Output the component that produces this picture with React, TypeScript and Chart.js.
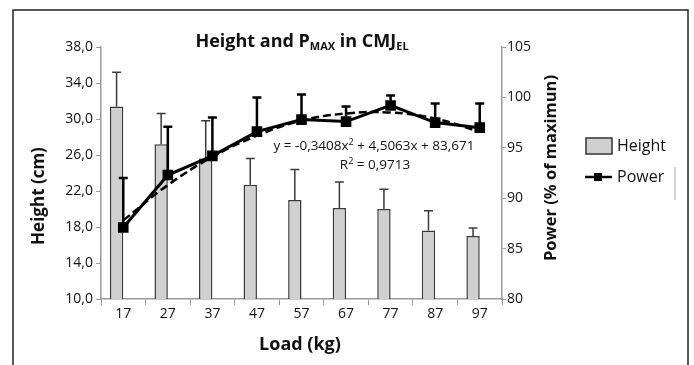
import React, { useEffect, useRef } from "react";
import { Chart, registerables } from "chart.js";
Chart.register(...registerables);

const loads = ["17", "27", "37", "47", "57", "67", "77", "87", "97"];
const heightMean = [31.4, 27.2, 25.6, 22.7, 21.0, 20.1, 20.0, 17.6, 17.0];
const heightSD = [3.8, 3.4, 4.2, 2.9, 3.4, 2.9, 2.2, 2.2, 0.9];
const powerMean = [87.1, 92.3, 94.2, 96.6, 97.8, 97.6, 99.2, 97.5, 97.0];
const powerSD = [4.9, 4.8, 3.8, 3.4, 2.5, 1.5, 1.0, 1.9, 2.4];
const powerTrend = [87.8, 91.3, 94.1, 96.2, 97.7, 98.4, 98.5, 97.9, 96.6];
const heightTicks = ["10,0", "14,0", "18,0", "22,0", "26,0", "30,0", "34,0", "38,0"];
const powerTicks = ["80", "85", "90", "95", "100", "105"];

const FONT = "'Open Sans', 'Noto Sans', sans-serif";

function drawRich(ctx: CanvasRenderingContext2D, parts: { t: string; f: string; dy: number }[], cx: number, base: number, rot = 0, ox = 0, oy = 0) {
  ctx.save();
  let w = 0;
  parts.forEach((p) => { ctx.font = p.f; w += ctx.measureText(p.t).width; });
  if (rot) { ctx.translate(ox, oy); ctx.rotate(rot); }
  let x = cx - w / 2;
  ctx.textBaseline = "alphabetic";
  ctx.textAlign = "left";
  ctx.fillStyle = "#111";
  parts.forEach((p) => { ctx.font = p.f; ctx.fillText(p.t, x, base + p.dy); x += ctx.measureText(p.t).width; });
  ctx.restore();
}

const overlay = {
  id: "overlay",
  afterDatasetDraw(chart: any, args: any) {
    const ctx = chart.ctx;
    if (args.index === 0) {
      const meta = chart.getDatasetMeta(0);
      const ys = chart.scales.y;
      ctx.save();
      ctx.strokeStyle = "#3a3a3a";
      ctx.lineWidth = 1.5;
      meta.data.forEach((bar: any, i: number) => {
        const x = bar.x;
        const y0 = ys.getPixelForValue(heightMean[i]);
        const y1 = ys.getPixelForValue(heightMean[i] + heightSD[i]);
        ctx.beginPath();
        ctx.moveTo(x, y0); ctx.lineTo(x, y1);
        ctx.moveTo(x - 4.5, y1); ctx.lineTo(x + 4.5, y1);
        ctx.stroke();
      });
      ctx.restore();
    }
    if (args.index === 2) {
      const meta = chart.getDatasetMeta(2);
      const ys = chart.scales.y1;
      ctx.save();
      ctx.strokeStyle = "#000";
      ctx.lineWidth = 2.5;
      meta.data.forEach((pt: any, i: number) => {
        const x = pt.x;
        const y0 = ys.getPixelForValue(powerMean[i]);
        const y1 = ys.getPixelForValue(powerMean[i] + powerSD[i]);
        ctx.beginPath();
        ctx.moveTo(x, y0); ctx.lineTo(x, y1);
        ctx.moveTo(x - 4.5, y1); ctx.lineTo(x + 4.5, y1);
        ctx.stroke();
      });
      ctx.restore();
    }
  },
  afterDraw(chart: any) {
    const ctx = chart.ctx as CanvasRenderingContext2D;
    // outer frame
    ctx.save();
    ctx.strokeStyle = "#222";
    ctx.lineWidth = 1.5;
    ctx.beginPath();
    ctx.moveTo(13, 365); ctx.lineTo(13, 10); ctx.lineTo(688, 10); ctx.lineTo(688, 365);
    ctx.stroke();
    ctx.strokeStyle = "#aaa";
    ctx.lineWidth = 1;
    ctx.beginPath(); ctx.moveTo(675, 167); ctx.lineTo(675, 200); ctx.stroke();
    ctx.restore();

    // title
    drawRich(ctx, [
      { t: "Height and P", f: `bold 18px ${FONT}`, dy: 0 },
      { t: "MAX", f: `bold 11px ${FONT}`, dy: 3 },
      { t: " in CMJ", f: `bold 18px ${FONT}`, dy: 0 },
      { t: "EL", f: `bold 11px ${FONT}`, dy: 3 },
    ], 302, 47);

    // equation
    drawRich(ctx, [
      { t: "y = -0,3408x", f: `13.5px ${FONT}`, dy: 0 },
      { t: "2", f: `9px ${FONT}`, dy: -5 },
      { t: " + 4,5063x + 83,671", f: `13.5px ${FONT}`, dy: 0 },
    ], 374, 150);
    drawRich(ctx, [
      { t: "R", f: `13.5px ${FONT}`, dy: 0 },
      { t: "2", f: `9px ${FONT}`, dy: -5 },
      { t: " = 0,9713", f: `13.5px ${FONT}`, dy: 0 },
    ], 375, 169);

    // axis titles
    drawRich(ctx, [{ t: "Load (kg)", f: `bold 18px ${FONT}`, dy: 0 }], 300, 350);
    drawRich(ctx, [{ t: "Height (cm)", f: `bold 17px ${FONT}`, dy: 0 }], 0, 0, -Math.PI / 2, 44, 196);
    drawRich(ctx, [{ t: "Power (% of maximun)", f: `bold 16.5px ${FONT}`, dy: 0 }], 0, 0, -Math.PI / 2, 556, 168);

    // legend
    ctx.save();
    ctx.fillStyle = "#d0d0d0";
    ctx.fillRect(586, 138, 26, 16);
    ctx.strokeStyle = "#333";
    ctx.lineWidth = 1.5;
    ctx.strokeRect(586, 138, 26, 16);
    ctx.strokeStyle = "#000";
    ctx.lineWidth = 2.5;
    ctx.beginPath(); ctx.moveTo(585, 177); ctx.lineTo(612, 177); ctx.stroke();
    ctx.fillStyle = "#000";
    ctx.fillRect(594, 173, 8, 8);
    ctx.fillStyle = "#111";
    ctx.font = `16px ${FONT}`;
    ctx.textBaseline = "middle";
    ctx.textAlign = "left";
    ctx.fillText("Height", 617, 146);
    ctx.fillText("Power", 617, 177);
    ctx.restore();
  },
};

export default function App() {
  const ref = useRef<HTMLCanvasElement>(null);
  useEffect(() => {
    if (!ref.current) return;
    const tickFont = { family: FONT, size: 14 };
    const chart = new Chart(ref.current, {
      type: "bar",
      data: {
        labels: loads,
        datasets: [
          {
            type: "bar",
            label: "Height",
            data: heightMean,
            yAxisID: "y",
            backgroundColor: "#d0d0d0",
            borderColor: "#3a3a3a",
            borderWidth: 1.5,
            categoryPercentage: 0.6,
            barPercentage: 1,
            order: 3,
          },
          {
            type: "bar",
            label: "",
            data: loads.map(() => null),
            yAxisID: "y",
            categoryPercentage: 0.6,
            barPercentage: 1,
            order: 4,
          },
          {
            type: "line",
            label: "Power",
            data: powerMean,
            yAxisID: "y1",
            borderColor: "#000",
            backgroundColor: "#000",
            borderWidth: 3,
            pointStyle: "rect",
            pointRadius: 7.5,
            pointBorderWidth: 0,
            tension: 0,
            order: 0,
          },
          {
            type: "line",
            label: "trend",
            data: powerTrend,
            yAxisID: "y1",
            borderColor: "#000",
            borderWidth: 2.5,
            borderDash: [8, 4],
            pointRadius: 0,
            tension: 0.4,
            order: 1,
          },
        ] as any,
      },
      options: {
        animation: false,
        responsive: true,
        maintainAspectRatio: false,
        layout: { padding: { left: 0, top: 47, right: 0, bottom: 0 } },
        plugins: { legend: { display: false }, title: { display: false }, tooltip: { enabled: false } },
        scales: {
          x: {
            offset: true,
            grid: { display: true, drawOnChartArea: false, drawTicks: true, tickLength: 6, color: "#999", offset: true },
            border: { color: "#999", width: 1.5 },
            ticks: { color: "#111", font: tickFont, padding: 1 },
            afterFit(s: any) { s.height = 66; },
          },
          y: {
            position: "left",
            min: 10,
            max: 38,
            grid: { drawOnChartArea: false, tickLength: 5, color: "#999" },
            border: { color: "#999", width: 1.5 },
            ticks: {
              stepSize: 4,
              color: "#111",
              font: tickFont,
              padding: 3,
              callback: (v: any) => heightTicks[Math.round((v - 10) / 4)] ?? "",
            },
            afterFit(s: any) { s.width = 101; },
          },
          y1: {
            position: "right",
            min: 80,
            max: 105,
            grid: { drawOnChartArea: false, tickLength: 4, color: "#999" },
            border: { color: "#999", width: 1.5 },
            ticks: {
              stepSize: 5,
              color: "#111",
              font: tickFont,
              padding: 1,
              callback: (v: any) => powerTicks[Math.round((v - 80) / 5)] ?? "",
            },
            afterFit(s: any) { s.width = 192; },
          },
        } as any,
      },
      plugins: [overlay],
    });
    return () => chart.destroy();
  }, []);
  return (
    <div style={{ position: "absolute", left: 0, top: 0, width: 694, height: 365, background: "#fff" }}>
      <canvas ref={ref} />
    </div>
  );
}
